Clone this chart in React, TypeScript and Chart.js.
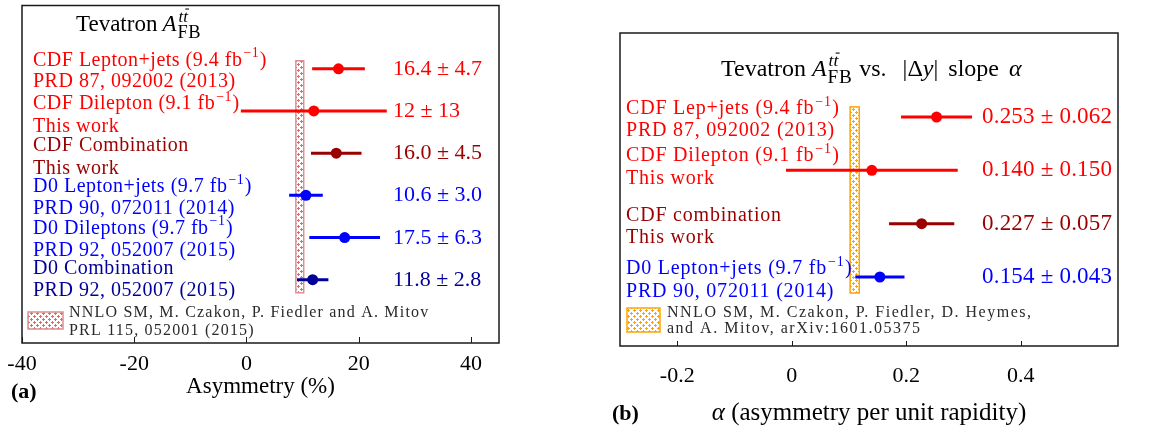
import React, { useEffect, useRef } from "react";
import { Chart, registerables } from "chart.js";
Chart.register(...registerables);

const FONT = '"Liberation Serif", "Times New Roman", serif';
Chart.defaults.font.family = FONT;

// ---------------- Panel (a): Tevatron A_FB ----------------
const rowsA = [1, 2, 3, 4, 5, 6];
const namesA = ["CDF Lepton+jets", "CDF Dilepton", "CDF Combination", "D0 Lepton+jets", "D0 Dileptons", "D0 Combination"];
const lumiA = ["9.4", "9.1", "", "9.7", "9.7", ""];
const refsA = ["PRD 87, 092002 (2013)", "This work", "This work", "PRD 90, 072011 (2014)", "PRD 92, 052007 (2015)", "PRD 92, 052007 (2015)"];
const centralA = [16.4, 12, 16.0, 10.6, 17.5, 11.8];
const errorA = [4.7, 13, 4.5, 3.0, 6.3, 2.8];
const valueTextA = ["16.4 ± 4.7", "12 ± 13", "16.0 ± 4.5", "10.6 ± 3.0", "17.5 ± 6.3", "11.8 ± 2.8"];
const predA = [8.8, 10.2];
const predRowsA = [0.81, 6.31];
const xTicksA = [-40, -20, 0, 20, 40];
const xRangeA = [-40, 45];
const yRangeA = [-0.5, 7.5];
const legendA = ["NNLO SM, M. Czakon, P. Fiedler and A. Mitov", "PRL 115, 052001 (2015)"];
const axisTitleA = "Asymmetry (%)";

// ---------------- Panel (b): slope alpha ----------------
const rowsB = [1, 2, 3, 4];
const namesB = ["CDF Lep+jets", "CDF Dilepton", "CDF combination", "D0 Lepton+jets"];
const lumiB = ["9.4", "9.1", "", "9.7"];
const refsB = ["PRD 87, 092002 (2013)", "This work", "This work", "PRD 90, 072011 (2014)"];
const centralB = [0.253, 0.14, 0.227, 0.154];
const errorB = [0.062, 0.15, 0.057, 0.043];
const valueTextB = ["0.253 ± 0.062", "0.140 ± 0.150", "0.227 ± 0.057", "0.154 ± 0.043"];
const predB = [0.102, 0.118];
const predRowsB = [0.81, 4.3];
const xTicksB = [-0.2, 0, 0.2, 0.4];
const xRangeB = [-0.3, 0.57];
const yRangeB = [-0.576, 5.294];
const legendB = ["NNLO SM, M. Czakon, P. Fiedler, D. Heymes,", "and A. Mitov, arXiv:1601.05375"];
const axisTitleB = "(asymmetry per unit rapidity)";

// ---------------- styles ----------------
const RED = "#ff0000";
const DARKRED = "#990000";
const BLUE = "#0000ff";
const NAVY = "#000099";
const colorsA = [RED, RED, DARKRED, BLUE, BLUE, NAVY];
const colorsB = [RED, RED, DARKRED, BLUE];

type Seg =
  | { k: "t"; t: string; it?: boolean }
  | { k: "sup"; t: string }
  | { k: "afb" }
  | { k: "gap"; w: number };

function setFont(ctx: CanvasRenderingContext2D, size: number, italic = false, bold = false) {
  ctx.font = `${italic ? "italic " : ""}${bold ? "bold " : ""}${size}px ${FONT}`;
}

function drawRich(
  ctx: CanvasRenderingContext2D, segs: Seg[], x: number, base: number, size: number, color: string,
  spacing = 0, draw = true,
) {
  ctx.save();
  ctx.fillStyle = color;
  ctx.textBaseline = "alphabetic";
  ctx.textAlign = "left";
  (ctx as any).letterSpacing = spacing + "px";
  const fill = (t: string, px: number, py: number) => {
    if (draw) ctx.fillText(t, px, py);
  };
  let cx = x;
  for (const s of segs) {
    if (s.k === "t") {
      setFont(ctx, size, !!s.it);
      fill(s.t, cx, base);
      cx += ctx.measureText(s.t).width;
    } else if (s.k === "gap") {
      cx += s.w;
    } else if (s.k === "sup") {
      const ss = size * 0.7;
      setFont(ctx, ss);
      fill(s.t, cx + 1, base - size * 0.42);
      cx += ctx.measureText(s.t).width + 1.5;
    } else {
      setFont(ctx, size, true);
      fill("A", cx, base);
      cx += ctx.measureText("A").width + 1;
      const ss = size * 0.74;
      setFont(ctx, ss, true);
      const supX = cx + 1;
      const supBase = base - size * 0.4;
      fill("tt", supX, supBase);
      const wt = ctx.measureText("t").width;
      if (draw) ctx.fillRect(supX + wt + ss * 0.12, supBase - ss * 0.78, wt * 0.8, Math.max(1, ss * 0.06));
      const wsup = ctx.measureText("tt").width + 1;
      const sb = size * 0.8;
      setFont(ctx, sb);
      (ctx as any).letterSpacing = "0.6px";
      fill("FB", cx, base + size * 0.3);
      const wsub = ctx.measureText("FB").width;
      (ctx as any).letterSpacing = spacing + "px";
      cx += Math.max(wsup, wsub);
    }
  }
  ctx.restore();
  return cx - x;
}

function makePattern(ctx: CanvasRenderingContext2D, color: string, step: number) {
  const c = document.createElement("canvas");
  c.width = step * 2;
  c.height = step * 2;
  const g = c.getContext("2d")!;
  g.fillStyle = "#ffffff";
  g.fillRect(0, 0, c.width, c.height);
  g.fillStyle = color;
  const plus = (x: number, y: number) => {
    g.fillRect(x - 1, y, 3, 1);
    g.fillRect(x, y - 1, 1, 3);
  };
  plus(1, 1);
  plus(1 + step, 1 + step);
  return ctx.createPattern(c, "repeat")!;
}

interface Spec {
  rows: number[];
  names: string[];
  lumi: string[];
  refs: string[];
  central: number[];
  error: number[];
  valueText: string[];
  pred: number[];
  predRows: number[];
  xTicks: number[];
  xRange: number[];
  yRange: number[];
  legend: string[];
  axisTitle: Seg[];
  colors: string[];
  title: Seg[];
  tag: string;
  layout: any;
}

const specA: Spec = {
  rows: rowsA, names: namesA, lumi: lumiA, refs: refsA, central: centralA, error: errorA,
  valueText: valueTextA, pred: predA, predRows: predRowsA, xTicks: xTicksA, xRange: xRangeA,
  yRange: yRangeA, legend: legendA, colors: colorsA,
  axisTitle: [{ k: "t", t: axisTitleA }],
  title: [{ k: "t", t: "Tevatron" }, { k: "gap", w: 5 }, { k: "afb" }],
  tag: "(a)",
  layout: {
    width: 580, left: 0, padL: 22, padR: 81, padT: 1, axisH: 90,
    tickFont: 22, tickBase: 369.5, axisTitleFont: 23, axisTitleBase: 393,
    labelX: 11, valueX: 371, labelFont: 20, labelSpacing: 0.5,
    valueFont: 22, valueSpacing: 0, lineOffsets: [[-3, 18], [-2, 21], [-2, 21], [-3, 19], [-4, 18], [-6, 16]],
    titleX: 76, titleBase: 31, titleFont: 23,
    legendBox: [28, 312, 35, 17], legendX: 69, legendBases: [317, 335], legendFont: 16, legendSpacing: 1.2,
    tagX: 11, tagBase: 398, tagFont: 22, pointR: 5.5, lineW: 3, tickLen: 6,
    bandFill: "#de6b6b", bandEdge: "#e38d8d", legendEdge: "#e38d8d",
  },
};

const specB: Spec = {
  rows: rowsB, names: namesB, lumi: lumiB, refs: refsB, central: centralB, error: errorB,
  valueText: valueTextB, pred: predB, predRows: predRowsB, xTicks: xTicksB, xRange: xRangeB,
  yRange: yRangeB, legend: legendB, colors: colorsB,
  axisTitle: [{ k: "t", t: "α", it: true }, { k: "t", t: " " + axisTitleB }],
  title: [
    { k: "t", t: "Tevatron" }, { k: "gap", w: 6 }, { k: "afb" }, { k: "gap", w: 7 }, { k: "t", t: "vs." },
    { k: "gap", w: 16 }, { k: "t", t: "|Δ" }, { k: "t", t: "y", it: true }, { k: "t", t: "|" },
    { k: "gap", w: 10 }, { k: "t", t: "slope" }, { k: "gap", w: 10 }, { k: "t", t: "α", it: true },
  ],
  tag: "(b)",
  layout: {
    width: 556, left: 600, padL: 20, padR: 38, padT: 33, axisH: 87,
    tickFont: 22, tickBase: 381.5, axisTitleFont: 25, axisTitleBase: 420,
    labelX: 6, valueX: 362, labelFont: 20, labelSpacing: 0.8,
    valueFont: 23, valueSpacing: 0.2, lineOffsets: [[-3, 19], [-9, 14], [-3, 19], [-3, 20]],
    titleX: 121, titleBase: 76, titleFont: 24,
    legendBox: [27, 308, 33, 24], legendX: 67, legendBases: [317, 333], legendFont: 16, legendSpacing: 1.5,
    tagX: 12, tagBase: 420, tagFont: 22, pointR: 5.5, lineW: 3, tickLen: 5,
    bandFill: "#ffa500", bandEdge: "#ffa500", legendEdge: "#ffa500",
  },
};

function labelSegs(name: string, lumi: string): Seg[] {
  if (!lumi) return [{ k: "t", t: name }];
  return [{ k: "t", t: `${name} (${lumi} fb` }, { k: "sup", t: "−1" }, { k: "t", t: ")" }];
}

function makePlugin(p: Spec) {
  const L = p.layout;
  return {
    id: "decor",
    beforeDatasetsDraw(chart: any) {
      const { ctx, scales } = chart;
      const x = scales.x, y = scales.y;
      const x0 = x.getPixelForValue(p.pred[0]);
      const x1 = x.getPixelForValue(p.pred[1]);
      const y0 = y.getPixelForValue(p.predRows[0]);
      const y1 = y.getPixelForValue(p.predRows[1]);
      ctx.save();
      ctx.fillStyle = makePattern(ctx, L.bandFill, 3);
      ctx.fillRect(x0, y0, x1 - x0, y1 - y0);
      ctx.strokeStyle = L.bandEdge;
      ctx.lineWidth = 1.5;
      ctx.strokeRect(x0, y0, x1 - x0, y1 - y0);
      ctx.restore();
    },
    afterDraw(chart: any) {
      const { ctx, chartArea, scales } = chart;
      const x = scales.x, y = scales.y;

      // row labels and values
      p.rows.forEach((r, i) => {
        const py = y.getPixelForValue(r);
        const [o1, o2] = L.lineOffsets[i];
        const lx = chartArea.left + L.labelX;
        drawRich(ctx, labelSegs(p.names[i], p.lumi[i]), lx, py + o1, L.labelFont, p.colors[i], L.labelSpacing);
        drawRich(ctx, [{ k: "t", t: p.refs[i] }], lx, py + o2, L.labelFont, p.colors[i], L.labelSpacing);
        drawRich(ctx, [{ k: "t", t: p.valueText[i] }], chartArea.left + L.valueX, py + 6, L.valueFont, p.colors[i], L.valueSpacing);
      });

      // title
      drawRich(ctx, p.title, L.titleX, L.titleBase, L.titleFont, "#000000");

      // legend
      const [bx, by, bw, bh] = L.legendBox;
      ctx.save();
      ctx.fillStyle = makePattern(ctx, L.bandFill, 3);
      ctx.fillRect(bx, by, bw, bh);
      ctx.strokeStyle = L.legendEdge;
      ctx.lineWidth = 1.5;
      ctx.strokeRect(bx, by, bw, bh);
      ctx.restore();
      p.legend.forEach((line, i) => {
        drawRich(ctx, [{ k: "t", t: line }], L.legendX, L.legendBases[i], L.legendFont, "#2a2a2a", L.legendSpacing);
      });

      // frame + inward ticks
      ctx.save();
      ctx.strokeStyle = "#1a1a1a";
      ctx.lineWidth = 1.5;
      ctx.strokeRect(chartArea.left, chartArea.top, chartArea.right - chartArea.left, chartArea.bottom - chartArea.top);
      ctx.lineWidth = 1;
      ctx.beginPath();
      for (const t of x.ticks) {
        const px = Math.round(x.getPixelForValue(t.value)) + 0.5;
        ctx.moveTo(px, chartArea.bottom);
        ctx.lineTo(px, chartArea.bottom - L.tickLen);
      }
      ctx.stroke();
      ctx.restore();

      // tick labels from the scale's ticks
      for (const t of x.ticks) {
        const label = [{ k: "t", t: String(t.value) }] as Seg[];
        const w = drawRich(ctx, label, 0, 0, L.tickFont, "#000", 0, false);
        drawRich(ctx, label, x.getPixelForValue(t.value) - w / 2, L.tickBase, L.tickFont, "#000");
      }

      // axis title centred on the chart area
      const cxMid = (chartArea.left + chartArea.right) / 2;
      const tw = drawRich(ctx, p.axisTitle, 0, 0, L.axisTitleFont, "#000", 0, false);
      drawRich(ctx, p.axisTitle, cxMid - tw / 2, L.axisTitleBase, L.axisTitleFont, "#000");

      // panel tag
      ctx.save();
      ctx.fillStyle = "#000";
      setFont(ctx, L.tagFont, false, true);
      ctx.textBaseline = "alphabetic";
      ctx.textAlign = "left";
      ctx.fillText(p.tag, L.tagX, L.tagBase);
      ctx.restore();
    },
  };
}

function buildConfig(p: Spec): any {
  const L = p.layout;
  const points = {
    type: "scatter",
    data: p.rows.map((r, i) => ({ x: p.central[i], y: r })),
    pointBackgroundColor: p.colors,
    pointBorderColor: p.colors,
    pointBorderWidth: 0,
    pointRadius: L.pointR,
    order: 1,
  };
  const bars = p.rows.map((r, i) => ({
    type: "line",
    data: [
      { x: p.central[i] - p.error[i], y: r },
      { x: p.central[i] + p.error[i], y: r },
    ],
    borderColor: p.colors[i],
    borderWidth: L.lineW,
    pointRadius: 0,
    showLine: true,
    fill: false,
    order: 2,
  }));
  return {
    type: "scatter",
    data: { datasets: [points, ...bars] },
    options: {
      animation: false,
      responsive: false,
      events: [],
      layout: { padding: { left: L.padL, right: L.padR, top: L.padT, bottom: 0 } },
      plugins: { legend: { display: false }, tooltip: { enabled: false } },
      scales: {
        x: {
          type: "linear",
          min: p.xRange[0],
          max: p.xRange[1],
          afterBuildTicks: (s: any) => {
            s.ticks = p.xTicks.map((v) => ({ value: v }));
          },
          afterFit: (s: any) => {
            s.height = L.axisH;
          },
          grid: { display: false, drawTicks: false },
          border: { display: false },
          ticks: { display: false },
          title: { display: false },
        },
        y: { type: "linear", min: p.yRange[0], max: p.yRange[1], reverse: true, display: false },
      },
    },
    plugins: [makePlugin(p)],
  };
}

function Panel({ spec }: { spec: Spec }) {
  const ref = useRef<HTMLCanvasElement>(null);
  const L = spec.layout;
  useEffect(() => {
    const chart = new Chart(ref.current!, buildConfig(spec));
    return () => chart.destroy();
  }, [spec]);
  return (
    <canvas
      ref={ref}
      width={L.width}
      height={433}
      style={{ position: "absolute", left: L.left, top: 0, width: L.width, height: 433 }}
    />
  );
}

export default function App() {
  return (
    <div style={{ position: "fixed", left: 0, top: 0, width: 1156, height: 433, background: "#fff", overflow: "hidden" }}>
      <Panel spec={specA} />
      <Panel spec={specB} />
    </div>
  );
}
